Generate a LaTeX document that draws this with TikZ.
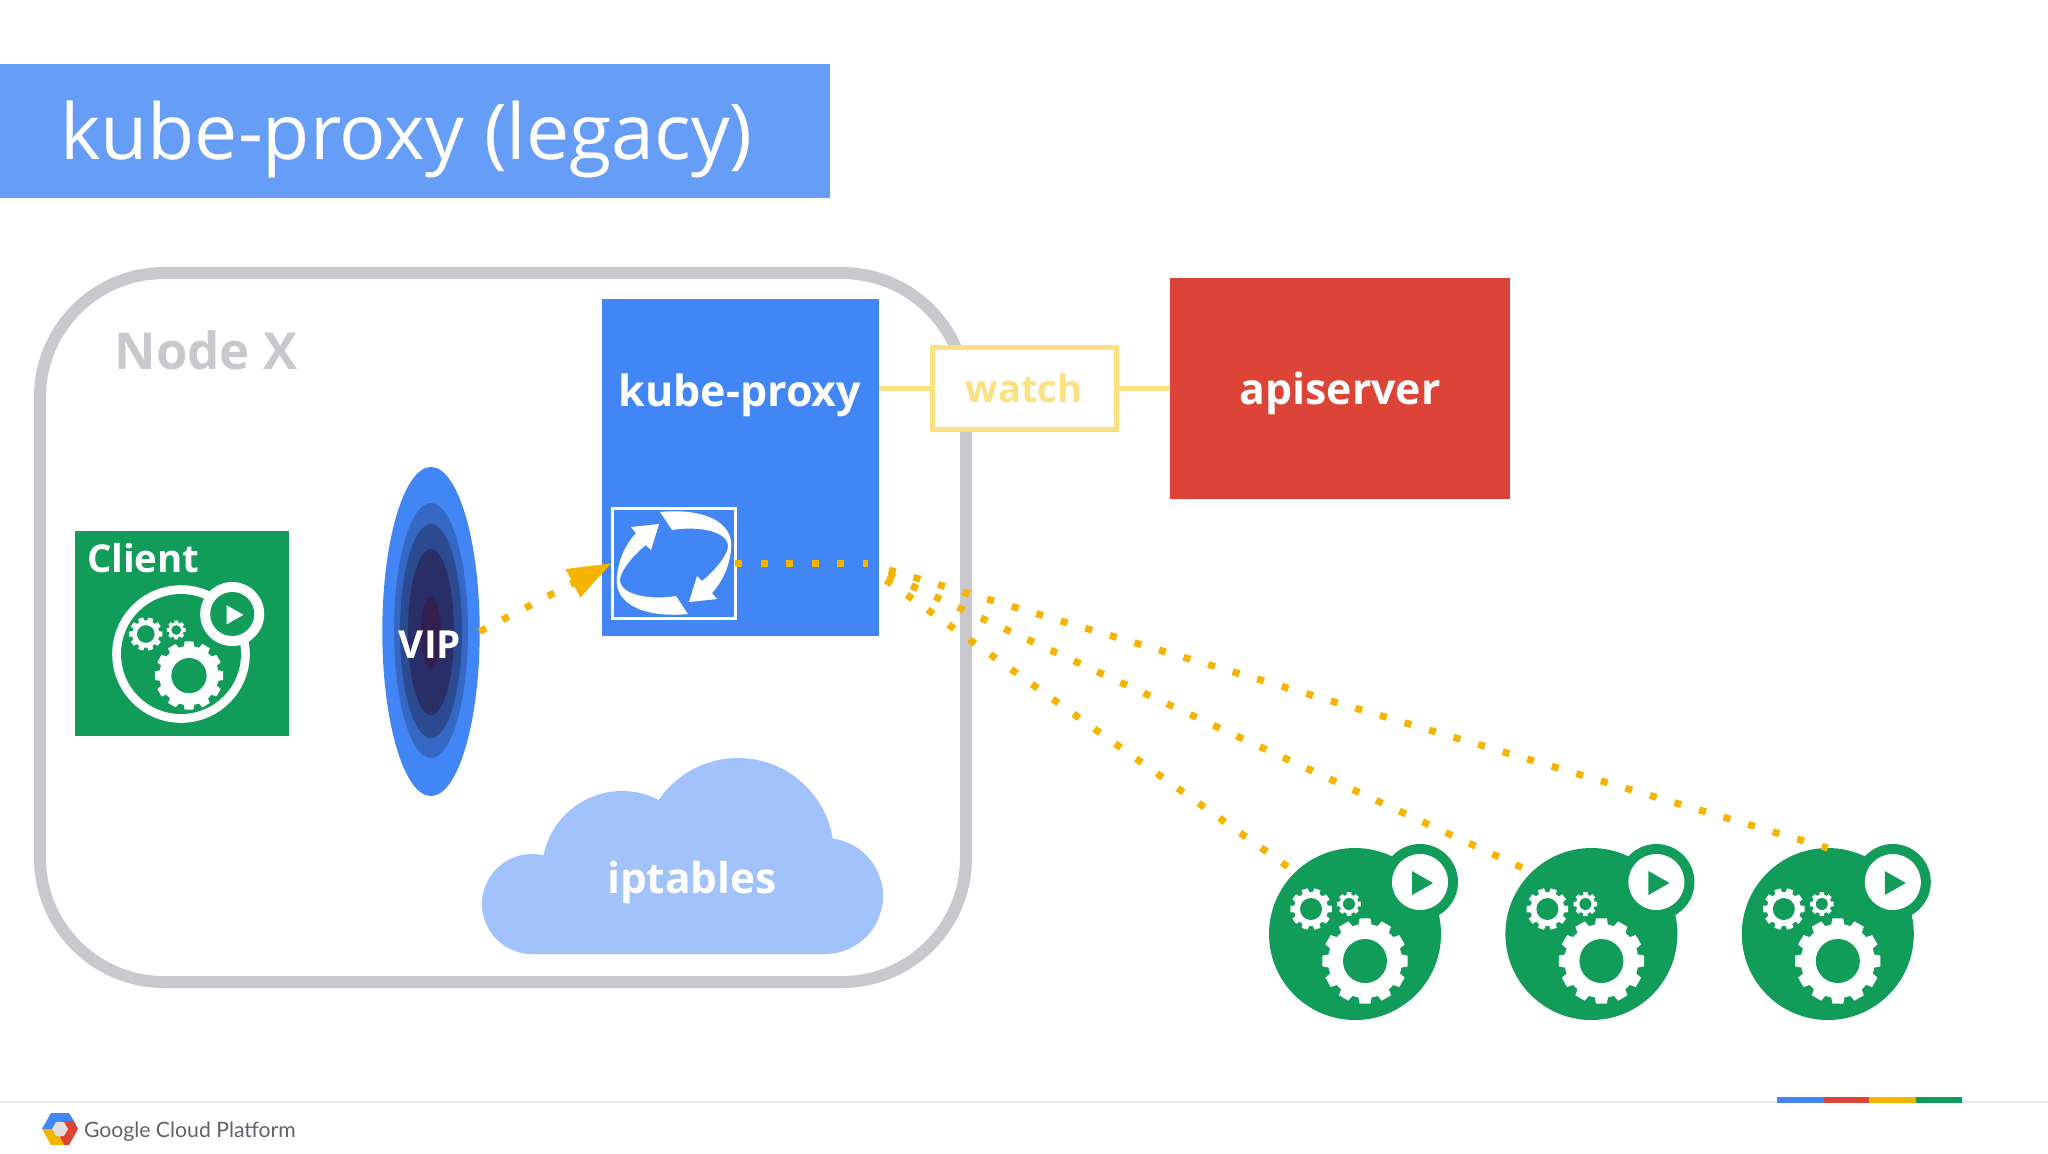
\documentclass[tikz,border=0pt]{standalone}
\usepackage{fontspec}
\setmainfont{Open Sans}
\newfontfamily\footfont{Lato}
\usetikzlibrary{arrows.meta,shapes.geometric}
\definecolor{gblue}{HTML}{4285F4}
\definecolor{gred}{HTML}{DB4437}
\definecolor{ggreen}{HTML}{129C5A}
\definecolor{gyellow}{HTML}{F4B400}
\definecolor{titleblue}{HTML}{669DF6}
\definecolor{cloudblue}{HTML}{A1C2FA}
\definecolor{nodegray}{HTML}{C9C8CC}
\definecolor{watchyellow}{HTML}{FCE183}
\definecolor{footgray}{HTML}{5F6368}

\newcommand{\cogwheel}[7]{
  \fill[white] (#1,#2) circle (#4);
  \pgfmathsetmacro{\cogstep}{360/#6}
  \foreach \k in {1,...,#6} {
    \pgfmathsetmacro{\a}{\k*\cogstep}
    \fill[white,shift={(#1,#2)}] (\a-.36*\cogstep:#4-1) -- (\a-.24*\cogstep:#3) -- (\a+.24*\cogstep:#3) -- (\a+.36*\cogstep:#4-1) -- cycle;
  }
  \fill[#7] (#1,#2) circle (#5);
}
\newcommand{\cogset}[1]{
  \cogwheel{10}{27}{43}{37}{22}{12}{#1}
  \cogwheel{-44}{-25}{21}{17}{11}{10}{#1}
  \cogwheel{-6}{-30}{12}{9.5}{6}{8}{#1}
}

\begin{document}
\begin{tikzpicture}[
  x=.5pt, y=-.5pt,
  every node/.style={inner sep=0pt, outer sep=0pt, font=\bfseries, text=white},
  yellowline/.style={draw=watchyellow, line width=2.5pt},
  dots/.style={draw=gyellow, line width=3.5pt, dash pattern=on 3.5pt off 9.3pt},
  pod/.style={circle, fill=ggreen, minimum size=86pt}
]
\useasboundingbox (0,0) rectangle (2048,1153);

\node[anchor=north west, fill=titleblue, minimum width=415pt, minimum height=67pt] (title) at (0,64) {};
\node[anchor=base west, font=\fontsize{38.5}{44}\selectfont] (titletext) at (60,159) {kube-proxy (legacy)};

\draw[draw=nodegray, line width=6pt, rounded corners=62pt] (40,273) rectangle (966,982);
\node[text=nodegray, font=\bfseries\fontsize{25.5}{30}\selectfont] (nodex) at (206,350) {Node X};

\node[fill=gblue, minimum width=138.5pt, minimum height=168.5pt] (proxy) at (740.5,467.5) {};
\node[font=\bfseries\fontsize{21.5}{26}\selectfont] (proxytext) at (740,395) {kube-proxy};
\node[draw=white, line width=1.5pt, minimum width=61.5pt, minimum height=55pt] (loop) at (673.5,563) {};
\foreach \r in {0,180}
  \fill[white, rotate around={\r:(674,563)}] (660,512) .. controls (700,508) and (735,520) .. (731,550) .. controls (729,568) and (722,582) .. (712,593) -- (717,599) -- (689,602) -- (697,576) -- (702,581) .. controls (716,570) and (729,553) .. (728,545) .. controls (726,530) and (695,526) .. (672,530) -- cycle;

\node[fill=gred, minimum width=170pt, minimum height=110.5pt, text depth=0pt, font=\bfseries\fontsize{21.4}{26}\selectfont] (apiserver) at (1340,388.5) {apiserver};
\node[draw=watchyellow, fill=white, line width=2.5pt, minimum width=92pt, minimum height=41pt, text=watchyellow, font=\bfseries\fontsize{19}{24}\selectfont] (watch) at (1024,388.5) {watch};
\draw[yellowline] (proxy.east |- watch.west) -- (watch.west);
\draw[yellowline] (watch.east) -- (watch.east -| apiserver.west);

\node[fill=ggreen, minimum width=107pt, minimum height=102.5pt] (client) at (182,633.5) {};
\node[anchor=base west, font=\bfseries\fontsize{19.2}{24}\selectfont] (clienttext) at (87,572) {Client};
\begin{scope}[shift={(181,654)}, scale=.8]
  \fill[white] (0,0) circle (86);
  \fill[ggreen] (0,0) circle (75);
  \cogset{ggreen}
  \fill[white] (64,-50) circle (40);
  \fill[ggreen] (64,-50) circle (27.5);
  \fill[white] (57,-61) -- (57,-37) -- (78,-49) -- cycle;
\end{scope}

\foreach \ry/\rx/\cy/\col/\nm in {164.5/48.7/631.5/4285F4/vip,127.5/37/630.5/3568C4/vipa,107/31/631/2B4A8F/vipb,83/23/632/2A2E66/vipc,36/10/632.5/301F4F/vipd} {
  \definecolor{vipfill}{HTML}{\col}
  \node[ellipse, fill=vipfill, minimum width=\rx pt, minimum height=\ry pt] (\nm) at (431,\cy) {};
}
\node[font=\bfseries\fontsize{19.3}{24}\selectfont] (viptext) at (430,645) {VIP};

\fill[cloudblue] (532,904) circle (50) (622,871) circle (80) (738,854) circle (96) (825,896) circle (58) (532,954) rectangle (825,880);
\node[font=\bfseries\fontsize{21.2}{26}\selectfont] (iptables) at (692,882) {iptables};

\foreach \k/\px in {1/1355,2/1591.4,3/1827.8} {
  \node[pod] (pod\k) at (\px,934) {};
  \begin{scope}[shift={(\px,934)}]
    \cogset{ggreen}
    \node[circle, fill=ggreen, minimum size=38pt] (badge\k) at (65,-52) {};
    \fill[white] (65,-52) circle (28);
    \fill[ggreen] (57,-63) -- (57,-39) -- (78,-51) -- cycle;
  \end{scope}
}

\coordinate (bend) at (868,563);
\coordinate (fana) at (889,570);
\coordinate (fanb) at (888,575);
\coordinate (fanc) at (886,580);
\draw[dots, -{Triangle[length=22pt, width=15pt]}] (vip.east) -- (loop.west);
\draw[dots] (loop.east) -- (bend);
\draw[dots] (fana) -- (pod3.90);
\draw[dots] (fanb) -- (pod2.134);
\draw[dots] (fanc) -- (pod1.134);

\draw[draw=black!9, line width=1pt] (0,1102) -- (2048,1102);
\fill[gblue] (1777,1097) rectangle (1824,1103);
\fill[gred] (1824,1097) rectangle (1869,1103);
\fill[gyellow] (1869,1097) rectangle (1916,1103);
\fill[ggreen] (1916,1097) rectangle (1962,1103);

\fill[gblue] (42,1129) -- (51,1113) -- (69,1113) -- (74,1121) -- (60,1121) -- (52,1129) -- cycle;
\fill[gred] (78,1129) -- (74,1121) -- (60,1121) -- (68,1129) -- (60,1137) -- (64,1145) -- (69,1145) -- cycle;
\fill[gyellow] (42,1129) -- (51,1145) -- (64,1145) -- (60,1137) -- (52,1129) -- cycle;
\fill[black!12] (52,1129) -- (56,1122) -- (64,1122) -- (68,1129) -- (64,1136) -- (56,1136) -- cycle;
\node[anchor=base west, text=footgray, font=\footfont\mdseries\fontsize{10.6}{14}\selectfont] (gcp) at (84,1137) {Google Cloud Platform};
\end{tikzpicture}
\end{document}
